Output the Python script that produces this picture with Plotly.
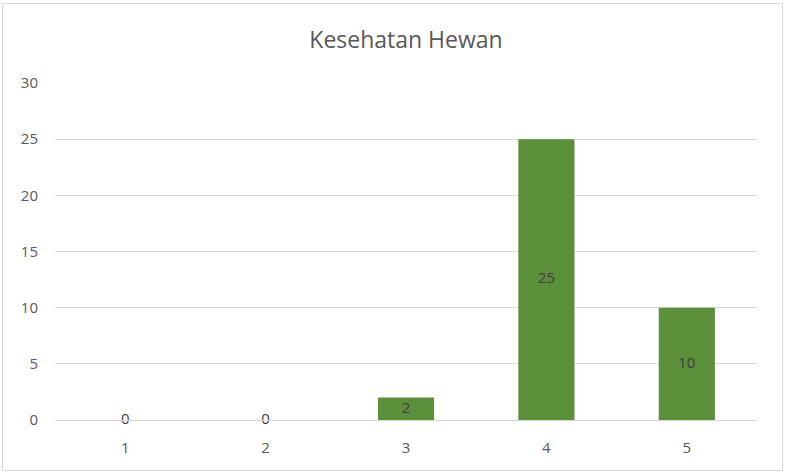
import plotly.graph_objects as go

categories = ["1", "2", "3", "4", "5"]
values = [0, 0, 2, 25, 10]
y_ticks = [0, 5, 10, 15, 20, 25, 30]
title_text = "Kesehatan Hewan"

W, H = 785, 475
ml, mr, mt, mb = 55, 28, 83, 55

fig = go.Figure()
fig.add_trace(go.Bar(
    x=categories, y=values,
    marker=dict(color="#5B8F3A", line=dict(width=0)),
    width=0.4, hoverinfo="skip", showlegend=False,
))
fig.add_trace(go.Scatter(
    x=categories, y=[v / 2 for v in values],
    mode="text", text=[str(v) for v in values],
    textfont=dict(family="Open Sans", size=15, color="#404040"),
    cliponaxis=False,
    hoverinfo="skip", showlegend=False,
))

pw = W - ml - mr
ph = H - mt - mb
fig.add_shape(type="rect", xref="paper", yref="paper",
              x0=(2.5 - ml) / pw, x1=(782.5 - ml) / pw,
              y0=(H - mb - 470.5) / ph, y1=(H - mb - 3.5) / ph,
              line=dict(color="#D9D9D9", width=1), layer="below")

fig.update_layout(
    width=W, height=H,
    margin=dict(l=ml, r=mr, t=mt, b=mb),
    paper_bgcolor="white", plot_bgcolor="white",
    title=dict(text=title_text, x=0.5, xref="paper", xanchor="center",
               y=1 - 40 / H, yanchor="middle",
               font=dict(family="Open Sans", size=23, color="#595959")),
    font=dict(family="Open Sans", color="#595959", size=15),
    bargap=0.6,
    xaxis=dict(type="category", showgrid=False, showline=True,
               linecolor="#D9D9D9", linewidth=1, ticks="",
               ticklabelstandoff=14,
               tickfont=dict(size=15, color="#595959")),
    yaxis=dict(range=[0, 30], tickvals=y_ticks, showgrid=True,
               gridcolor="#D9D9D9", gridwidth=1, zeroline=False,
               showline=False, ticks="", ticklabelstandoff=16,
               tickfont=dict(size=15, color="#595959")),
)

fig.write_html("out.html",
               config={"displayModeBar": False},
               post_script="document.body.style.margin='0';document.body.style.padding='0';")
